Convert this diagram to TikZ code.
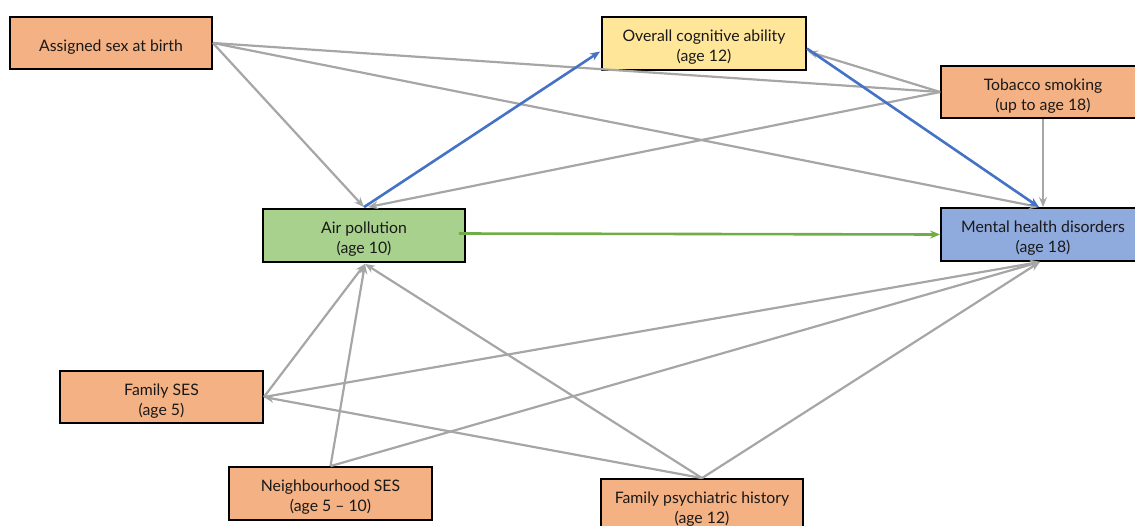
\documentclass[tikz,border=0pt]{standalone}
\usepackage{fontspec}
\setmainfont{Lato}
\usetikzlibrary{arrows.meta,calc}
\definecolor{boxorange}{HTML}{F4B183}
\definecolor{boxyellow}{HTML}{FFE699}
\definecolor{boxgreen}{HTML}{A9D18E}
\definecolor{boxblue}{HTML}{8FAADC}
\definecolor{linegray}{HTML}{A6A6A6}
\definecolor{lineblue}{HTML}{4472C4}
\definecolor{linegreen}{HTML}{70AD47}
\newcommand\mytopstrut{\rule{0pt}{19pt}}
\tikzset{
  varbox/.style={draw=black, line width=1.8pt, rectangle, minimum width=202pt, minimum height=52pt, align=center, inner sep=2pt, font=\fontsize{15.8}{20}\selectfont, text=black!90},
  grayarrow/.style={draw=linegray, line width=2.2pt, -{Stealth[length=10pt,width=8pt]}},
  grayline/.style={draw=linegray, line width=2.2pt},
  bluearrow/.style={draw=lineblue, line width=2.6pt, -{Stealth[length=10pt,width=8pt]}},
  greenarrow/.style={draw=linegreen, line width=2.6pt, -{Stealth[length=10pt,width=8pt]}},
}
\begin{document}
\begin{tikzpicture}[x=1pt,y=-1pt]
\useasboundingbox (0,0) rectangle (1135,525);
\clip (0,0) rectangle (1135,525);
\node[varbox, fill=boxorange] (sex) at (111,43) {\mytopstrut Assigned sex at birth};
\node[varbox, fill=boxyellow, minimum width=204pt, minimum height=53pt] (cog) at (704,43.5) {\mytopstrut Overall cognitive ability\\(age 12)};
\node[varbox, fill=boxorange, minimum width=204pt] (tob) at (1043,92) {\mytopstrut Tobacco smoking\\(up to age 18)};
\node[varbox, fill=boxblue, minimum width=204pt, minimum height=53pt] (mh) at (1043,234.5) {\mytopstrut Mental health disorders\\(age 18)};
\node[varbox, fill=boxgreen, minimum height=53pt] (air) at (364,235.5) {\mytopstrut Air pollution\\(age 10)};
\node[varbox, fill=boxorange, minimum width=203pt] (fses) at (161.5,397) {\mytopstrut Family SES\\(age 5)};
\node[varbox, fill=boxorange, minimum width=203pt, minimum height=53pt] (nses) at (330.5,493.5) {\mytopstrut Neighbourhood SES\\(age 5 -- 10)};
\node[varbox, fill=boxorange] (fph) at (702,505) {\mytopstrut Family psychiatric history\\(age 12)};

\coordinate (airtop) at ($(air.north)+(0,-1)$);
\coordinate (airbot) at ($(air.south)+(1,1)$);
\coordinate (mhtop) at ($(mh.north)+(-4,0)$);
\coordinate (mhbot) at ($(mh.south)+(-3,0)$);
\coordinate (tobw) at (tob.west);
\coordinate (cogin) at ($(cog.west)+(-1,8)$);
\coordinate (cogout) at ($(cog.east)+(0,5)$);
\coordinate (cogtip) at ($(cog.east)+(1,8)$);

\draw[grayarrow] (sex.east) -- (airtop);
\draw[grayline] (sex.east) -- (tobw);
\draw[grayarrow] (sex.east) -- (mhtop);
\draw[grayarrow] (tobw) -- (cogtip);
\draw[grayarrow] (tobw) -- ($(airtop)+(4,0)$);
\draw[grayarrow] (tob.south) -- (mh.north);
\draw[grayarrow] (fses.east) -- (airbot);
\draw[grayarrow] (nses.north) -- (airbot);
\draw[grayarrow] (fph.north) -- (airbot);
\draw[grayarrow] (fses.east) -- (mhbot);
\draw[grayarrow] (nses.north) -- (mhbot);
\draw[grayarrow] (fph.north) -- (mhbot);
\draw[grayarrow] (fph.north) -- (fses.east);
\draw[bluearrow] (airtop) -- (cogin);
\draw[bluearrow] (cogout) -- (mhtop);
\draw[greenarrow] ($(air.east)+(-7,-2)$) -- ($(mh.west)+(0,0)$);
\end{tikzpicture}
\end{document}
